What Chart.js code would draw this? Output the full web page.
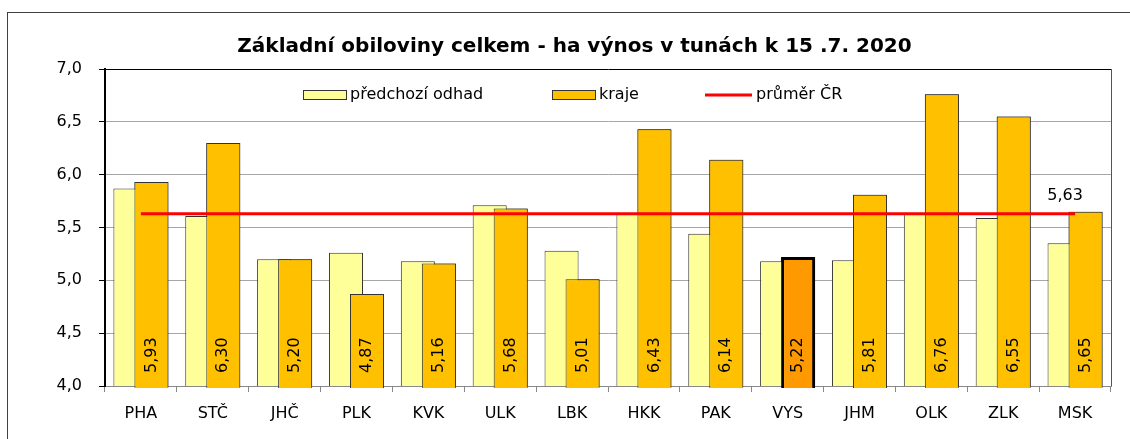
<!DOCTYPE html>
<html lang="cs">
<head>
<meta charset="utf-8">
<title>Základní obiloviny celkem</title>
<script src="https://cdn.jsdelivr.net/npm/chart.js@4"></script>
<style>
  html, body { margin: 0; padding: 0; background: #fff; overflow: hidden; }
  #box { position: absolute; left: 7px; top: 12px; width: 1133px; height: 430px; border: 1px solid #404040; }
  canvas { display: block; }
</style>
</head>
<body>
<div id="box"><canvas id="chart" width="1133" height="430"></canvas></div>
<script>
// data
const labels = ['PHA', 'STČ', 'JHČ', 'PLK', 'KVK', 'ULK', 'LBK', 'HKK', 'PAK', 'VYS', 'JHM', 'OLK', 'ZLK', 'MSK'];
const predchoziOdhad = [5.87, 5.61, 5.20, 5.26, 5.18, 5.71, 5.28, 5.63, 5.44, 5.18, 5.19, 5.63, 5.59, 5.35];
const kraje = [5.93, 6.30, 5.20, 4.87, 5.16, 5.68, 5.01, 6.43, 6.14, 5.22, 5.81, 6.76, 6.55, 5.65];
const prumerCR = 5.63;
const highlighted = 'VYS';

const FONT = "'DejaVu Sans', Verdana, sans-serif";
const fmt = v => v.toFixed(2).replace('.', ',');

// orange bars should sit on top of the light ones
const barsOnTop = {
    id: 'barsOnTop',
    afterDatasetDraw(chart, args) {
        if (args.index !== 0) return;
        const a = chart.chartArea;
        const ctx = chart.ctx;
        ctx.save();
        ctx.beginPath();
        ctx.rect(a.left - 2, a.top, a.right - a.left + 4, a.bottom - a.top + 2);
        ctx.clip();
        chart.getDatasetMeta(1).controller.draw();
        ctx.restore();
    }
};

// value labels, legend and plot border
const extras = {
    id: 'extras',
    afterDatasetsDraw(chart) {
        const ctx = chart.ctx;
        const area = chart.chartArea;

        ctx.save();
        ctx.fillStyle = '#000';
        ctx.font = '16px ' + FONT;
        ctx.textAlign = 'left';
        ctx.textBaseline = 'middle';
        chart.getDatasetMeta(1).data.forEach((bar, i) => {
            ctx.save();
            ctx.translate(bar.x, area.bottom - 13);
            ctx.rotate(-Math.PI / 2);
            ctx.fillText(fmt(kraje[i]), 0, 0);
            ctx.restore();
        });

        // average label at the end of the red line
        const pts = chart.getDatasetMeta(2).data;
        const last = pts[pts.length - 1];
        ctx.textAlign = 'center';
        ctx.textBaseline = 'bottom';
        ctx.fillText(fmt(prumerCR), last.x - 10, last.y - 10);

        // right border of the plot
        ctx.strokeStyle = '#555';
        ctx.lineWidth = 1;
        ctx.beginPath();
        ctx.moveTo(area.right + 0.5, area.top);
        ctx.lineTo(area.right + 0.5, area.bottom);
        ctx.stroke();

        // legend
        const ly = area.top + 26;
        const items = [
            { x: area.left + 198, ds: 0, text: 'předchozí odhad' },
            { x: area.left + 447, ds: 1, text: 'kraje' },
            { x: area.left + 600, ds: 2, text: 'průměr ČR' }
        ];
        ctx.textAlign = 'left';
        ctx.textBaseline = 'middle';
        items.forEach(it => {
            const d = chart.data.datasets[it.ds];
            if (d.type === 'line') {
                ctx.strokeStyle = d.borderColor;
                ctx.lineWidth = 3;
                ctx.beginPath();
                ctx.moveTo(it.x, ly);
                ctx.lineTo(it.x + 47, ly);
                ctx.stroke();
                ctx.fillText(it.text, it.x + 51, ly);
            } else {
                ctx.fillStyle = it.ds === 0 ? d.backgroundColor : '#FFC000';
                ctx.fillRect(it.x, ly - 5, 44, 10);
                ctx.strokeStyle = '#333';
                ctx.lineWidth = 1;
                ctx.strokeRect(it.x + 0.5, ly - 4.5, 43, 9);
                ctx.fillStyle = '#000';
                ctx.fillText(it.text, it.x + 47, ly);
            }
            ctx.fillStyle = '#000';
        });
        ctx.restore();
    }
};

new Chart(document.getElementById('chart'), {
    type: 'bar',
    data: {
        labels: labels,
        datasets: [
            {
                label: 'předchozí odhad',
                data: predchoziOdhad,
                backgroundColor: '#FFFF99',
                borderColor: '#333',
                borderWidth: 1,
                order: 1
            },
            {
                label: 'kraje',
                data: kraje,
                backgroundColor: labels.map(l => l === highlighted ? '#FF9900' : '#FFC000'),
                borderColor: labels.map(l => l === highlighted ? '#000' : '#333'),
                borderWidth: labels.map(l => l === highlighted ? 3 : 1),
                order: 2
            },
            {
                type: 'line',
                label: 'průměr ČR',
                data: labels.map(() => prumerCR),
                borderColor: '#FF0000',
                borderWidth: 3,
                pointRadius: 0,
                order: 0
            }
        ]
    },
    options: {
        responsive: false,
        animation: false,
        categoryPercentage: 0.585,
        barPercentage: 1.62,
        layout: { padding: { top: 0, right: 30, bottom: 0, left: 30 } },
        plugins: {
            legend: { display: false },
            tooltip: { enabled: false },
            title: {
                display: true,
                text: 'Základní obiloviny celkem - ha výnos v tunách k 15 .7. 2020',
                color: '#000',
                font: { family: FONT, size: 20, weight: 'bold' },
                padding: { top: 22, bottom: 10 }
            }
        },
        scales: {
            x: {
                afterFit: s => { s.height = 57; },
                border: { color: '#888', width: 1 },
                grid: { drawOnChartArea: false, tickLength: 6, color: '#888' },
                ticks: { color: '#000', padding: 12, font: { family: FONT, size: 16 } }
            },
            y: {
                min: 4,
                max: 7,
                afterFit: s => { s.width = 67; },
                border: { color: '#000', width: 2 },
                grid: {
                    color: c => c.tick && c.tick.value === 7 ? '#000' : '#a6a6a6',
                    tickColor: '#000',
                    tickLength: 6
                },
                ticks: {
                    stepSize: 0.5,
                    padding: 17,
                    color: '#000',
                    font: { family: FONT, size: 16 },
                    callback: v => v.toFixed(1).replace('.', ',')
                }
            }
        }
    },
    plugins: [barsOnTop, extras]
});
</script>
</body>
</html>
